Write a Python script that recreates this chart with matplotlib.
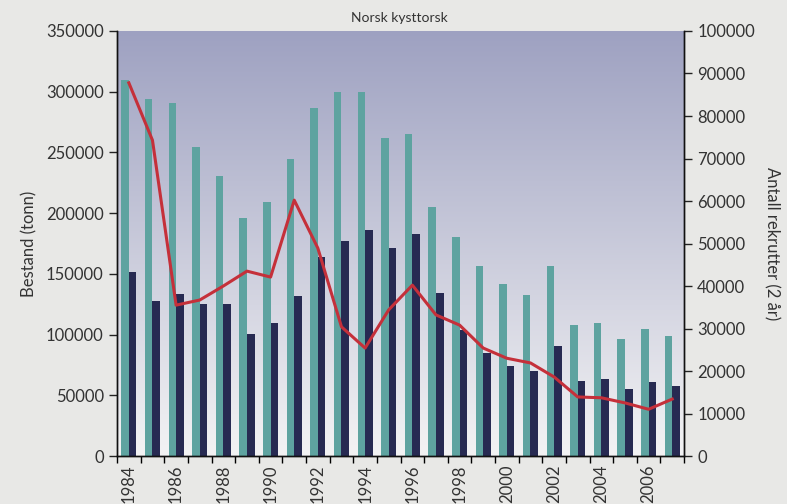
import matplotlib
matplotlib.use("Agg")
import matplotlib.pyplot as plt
from matplotlib.colors import LinearSegmentedColormap
import numpy as np

# Norsk kysttorsk - bestand og rekruttering
years = list(range(1984, 2008))
bestand_total = [310000, 294000, 291000, 254500, 231000, 196000, 209500, 245000,
                 287000, 300000, 300000, 262000, 265500, 205000, 180500, 156500,
                 141500, 132500, 156500, 108000, 109500, 96500, 104500, 99000]
bestand_gyte = [151500, 127500, 133500, 125000, 125000, 100500, 109500, 132000,
                164000, 177000, 186000, 171500, 183000, 134500, 104000, 85000,
                74000, 70000, 90500, 62000, 63500, 55000, 61000, 57500]
rekrutter = [87800, 74300, 35500, 36700, 40000, 43500, 42100, 60200,
             48900, 30400, 25400, 34400, 40200, 33200, 30800, 25400,
             23000, 21900, 18600, 13900, 13700, 12500, 11000, 13400]

font = ["Lato", "DejaVu Sans"]
plt.rcParams['font.family'] = font
plt.rcParams['font.size'] = 12

txt = "#333333"
bg = "#e8e8e6"
fig = plt.figure(figsize=(7.87, 5.04), dpi=100, facecolor=bg)
ax = fig.add_axes([0.1487, 0.0952, 0.7205, 0.8433])
ax2 = ax.twinx()

x = np.arange(len(years))
w = 0.32

# gradient background
cmap = LinearSegmentedColormap.from_list("bg", ["#f3f3f4", "#9ea1c1"])
grad = np.linspace(0, 1, 256).reshape(-1, 1)
ax.imshow(grad, cmap=cmap, aspect="auto", origin="lower",
          extent=[-0.5, len(years) - 0.5, 0, 350000], zorder=0)

ax.bar(x - w / 2, bestand_total, width=w, color="#5ea3a0", zorder=2)
ax.bar(x + w / 2, bestand_gyte, width=w, color="#272a52", zorder=2)
ax2.plot(x, rekrutter, color="#c5303a", lw=2.2, zorder=3)

ax.set_xlim(-0.5, len(years) - 0.5)
ax.set_ylim(0, 350000)
ax2.set_ylim(0, 100000)
ax.set_yticks(range(0, 350001, 50000))
ax2.set_yticks(range(0, 100001, 10000))

ax.set_xticks(x[::2])
ax.set_xticklabels([str(y) for y in years[::2]], rotation=90, fontsize=12)
ax.set_xticks(np.arange(-0.5, len(years), 1), minor=True)
ax.tick_params(axis="x", which="major", length=0, pad=6)
ax.tick_params(axis="x", which="minor", length=5, width=1)
ax.tick_params(axis="y", length=6, width=1, colors="#222222", labelcolor=txt)
ax2.tick_params(axis="y", length=6, width=1, colors="#222222", labelcolor=txt)
ax.tick_params(axis="x", colors="#222222", labelcolor=txt)

for a in (ax, ax2):
    a.spines["top"].set_visible(False)
    for s in ("left", "right", "bottom"):
        a.spines[s].set_linewidth(1)
        a.spines[s].set_color("#111111")

ax.set_ylabel("Bestand (tonn)", color=txt, labelpad=6)
ax2.set_ylabel("Antall rekrutter (2 år)", rotation=270, labelpad=18, color=txt)
fig.text(0.508, 0.965, "Norsk kysttorsk", ha="center", va="center", fontsize=10, color=txt)

fig.savefig("out.png", dpi=100, facecolor=bg)
